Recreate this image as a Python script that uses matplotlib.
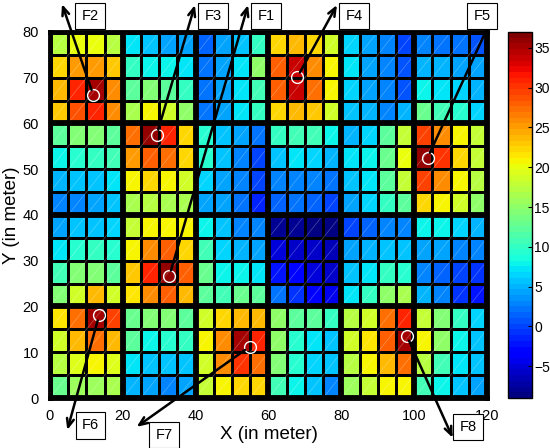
import matplotlib
matplotlib.use("Agg")
import matplotlib.pyplot as plt
import numpy as np
from matplotlib.collections import LineCollection

plt.rcParams["font.family"] = ["Liberation Sans", "DejaVu Sans"]

# cell values (5 m cells), one list per cell row, left to right, 24 cells each;
# each band holds its four rows from top to bottom
BAND_60_80 = [
    [17, 20, 20, 17, 7, 5.5, 4.5, 4, 1.5, 4, 6, 10, 22.5, 24, 22, 18.5, 6.5, 4, 2.5, 0, 2.5, 2, 2, 0.5],
    [22, 25, 25, 23, 10, 8, 8, 7, 2, 4.5, 7, 15, 28, 33.5, 26, 21, 7.5, 4.5, 3, 0.5, 5, 5, 4, 4],
    [24, 31, 35, 26, 12, 14, 12, 10, 2, 4, 7, 11, 28, 34, 27, 21, 6.5, 4.5, 3, 0.5, 8, 7.5, 6.5, 5],
    [23, 29, 31, 26, 16.5, 21, 19, 15, 2, 4, 7, 10, 22, 24, 23, 19, 6, 5, 3, 5, 13, 11, 9, 6.5],
]
BAND_40_60 = [
    [12, 14, 14, 12, 27, 36, 31, 22, 9, 6, 4.5, 2, 10, 11, 10.5, 8, 5, 6.5, 12, 18, 29.5, 25.5, 21, 18],
    [8, 9, 10, 10.5, 25, 28, 27, 22, 9, 5.5, 3, 0, 6, 7, 6.5, 5, 7, 8, 13, 20, 36, 30, 22, 18],
    [5, 5.5, 6, 7.5, 20.5, 22, 21, 18.5, 6.5, 4.5, 2.5, 0, 2.5, 3, 2.5, 2, 5.5, 7, 12, 18, 29.5, 25.5, 20.5, 17],
    [2.5, 3, 4, 5.5, 16.5, 17, 16.5, 16.5, 4.5, 4, 2, -1.5, 1.5, 2, 1.5, 0, 4.5, 6.5, 10, 12.5, 22, 20.5, 18.5, 15],
]
BAND_20_40 = [
    [4, 6, 6, 6.5, 18, 20.5, 21, 20.5, 8, 6, 3, 2.5, -8, -8, -8.5, -8.5, 0, 1.5, 2.5, 2.5, 8, 8, 6.5, 5],
    [7, 9, 10, 9, 21, 25.5, 28, 22.5, 11, 6.5, 5, 4.5, -5, -5.5, -6, -6.5, 4, 5, 5.5, 6, 4.5, 4, 3, 2.5],
    [11, 14, 14, 12.5, 23, 31, 36, 28, 13, 8, 8, 7, -2, -3, -5, -5.5, 5.5, 7.5, 10, 9.5, 2.5, 1.5, 0, -0.5],
    [14, 19, 23.5, 19, 21.5, 26, 28, 24, 12, 11, 13, 12.5, 2, -1, -3.5, -4, 7.5, 10, 15, 16.5, 5, 2.5, -0.5, -2],
]
BAND_0_20 = [
    [21.5, 27, 35.5, 29.5, 13, 14, 14, 12, 18.5, 22, 24, 23.5, 15, 12.5, 12.5, 10, 17, 19, 27, 31, 18, 14.5, 10, 6.5],
    [19, 24, 27.5, 24, 12, 8, 9, 10, 20.5, 26, 35, 31, 15, 9, 7, 6, 19, 21.5, 28, 35, 20.5, 15, 8, 5.5],
    [17, 19.5, 21, 19.5, 7.5, 6, 5.5, 6, 19, 25.5, 30.5, 27.5, 14.5, 9, 6.5, 5.5, 17, 20.5, 24, 27.5, 17, 11, 7.5, 5.5],
    [13, 15.5, 15.5, 16.5, 5, 4.5, 3, 4, 18, 21, 22.5, 22, 11, 8, 6, 3, 16, 18, 21, 20.5, 11, 8, 5.5, 4.5],
]

# marked features: circle position, arrow tip and label box position (metres)
FEATURES = ["F1", "F2", "F3", "F4", "F5", "F6", "F7", "F8"]
FEAT_X = [32.8, 11.9, 29.3, 67.9, 103.7, 13.5, 54.8, 98.0]
FEAT_Y = [26.7, 66.2, 57.5, 70.1, 52.5, 18.1, 11.2, 13.6]
TIP_X = [54.4, 3.3, 39.8, 78.8, 123.0, 4.75, 23.8, 110.6]
TIP_Y = [85.9, 86.1, 85.9, 85.9, 85.9, -7.0, -6.3, -8.7]
BOX_X = [59.3, 11.0, 44.8, 83.5, 118.6, 11.1, 31.3, 114.8]
BOX_Y = [83.5, 83.5, 83.5, 83.5, 83.5, -6.0, -8.1, -6.3]

VMIN, VMAX = -9, 37
CELL = 5
BLOCK = 20

grid = np.array(BAND_0_20[::-1] + BAND_20_40[::-1] + BAND_40_60[::-1] + BAND_60_80[::-1])
xe = np.arange(0, 121, CELL)
ye = np.arange(0, 81, CELL)

fig = plt.figure(figsize=(5.5, 4.48), dpi=100)
ax = fig.add_axes([0.0909, 0.1116, 0.7945, 0.817])
cax = fig.add_axes([0.9236, 0.1116, 0.0436, 0.817])

mesh = ax.pcolormesh(xe, ye, grid, cmap=plt.get_cmap("jet", 64),
                     vmin=VMIN, vmax=VMAX, edgecolors="black", linewidth=0.75)

# faint diagonal seams through every cell
segs = [[(x, y), (x + CELL, y + CELL)] for x in xe[:-1] for y in ye[:-1]]
ax.add_collection(LineCollection(segs, colors="white", linewidths=0.5, alpha=0.3))

# thick block borders
for x in range(0, 121, BLOCK):
    ax.axvline(x, color="black", lw=4.2)
for y in range(0, 81, BLOCK):
    ax.axhline(y, color="black", lw=4.2)

ax.plot(FEAT_X, FEAT_Y, "o", ms=8.5, mfc="none", mec="white", mew=1.0)
for name, fx, fy, tx, ty, bx, by in zip(FEATURES, FEAT_X, FEAT_Y, TIP_X, TIP_Y, BOX_X, BOX_Y):
    ax.annotate("", xy=(tx, ty), xytext=(fx, fy), annotation_clip=False,
                arrowprops=dict(arrowstyle="->,head_length=0.6,head_width=0.25",
                                color="black", lw=1.8, shrinkA=4, shrinkB=0))
    ax.text(bx, by, name, ha="center", va="center", fontsize=10.5, clip_on=False,
            bbox=dict(boxstyle="square,pad=0.42", fc="white", ec="black", lw=0.8))

ax.set_xlim(0, 120)
ax.set_ylim(0, 80)
ax.set_xticks(range(0, 121, 20))
ax.set_yticks(range(0, 81, 10))
ax.tick_params(labelsize=10.5, length=0, pad=8)
for s in ax.spines.values():
    s.set_linewidth(3.5)
ax.set_xlabel("X (in meter)", fontsize=13.5, labelpad=2)
ax.set_ylabel("Y (in meter)", fontsize=13.5, labelpad=2)

cb = fig.colorbar(mesh, cax=cax, ticks=range(-5, 36, 5))
cb.ax.tick_params(labelsize=10, length=3, direction="in", pad=1.5)
cb.outline.set_linewidth(1.0)

fig.savefig("out.png")
